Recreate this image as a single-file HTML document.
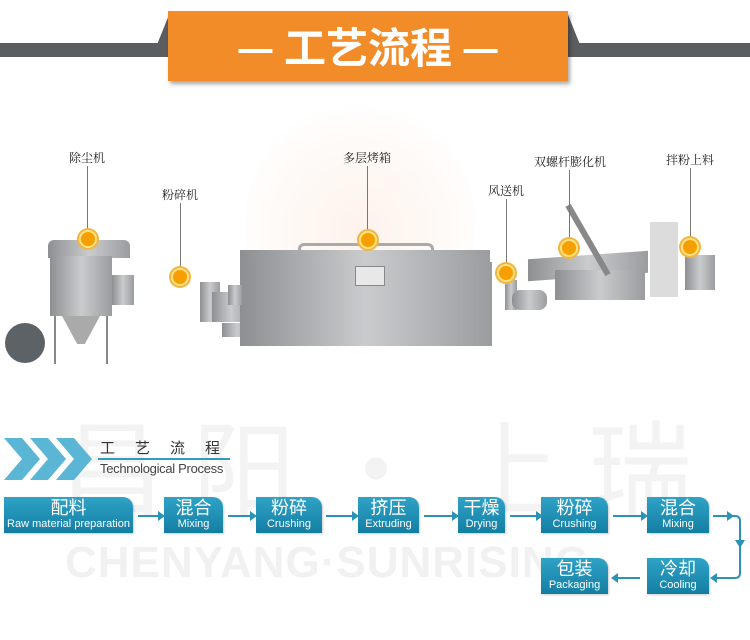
<!DOCTYPE html>
<html><head><meta charset="utf-8"><style>
body{margin:0;width:750px;height:640px;background:#fff;position:relative;overflow:hidden;font-family:"Liberation Sans","Noto Sans CJK SC",sans-serif}
.a{position:absolute}
.box{position:absolute;background:linear-gradient(180deg,#2fa3c6,#137ea3);color:#fff;text-align:center;border-top-right-radius:10px;box-shadow:1px 1px 2px rgba(0,0,0,.2)}
.box b{display:block;font-weight:normal;font-size:18px;line-height:20px;margin-top:1px}
.box i{display:block;font-style:normal;font-size:11px;line-height:13px}
.lbl{position:absolute;font-family:"Noto Serif CJK SC",serif;font-size:12px;color:#222;white-space:nowrap;transform:translateX(-50%)}
.ln{position:absolute;width:1px;background:#777}
.dot{position:absolute;width:14px;height:14px;border-radius:50%;background:#f5a000;border:2px solid #ffe080;box-shadow:0 0 0 2px #f1b640;transform:translate(-50%,-50%)}
.m{position:absolute;background:linear-gradient(90deg,#8d8f92,#c9cbcd,#9a9c9f)}
</style></head><body>
<div class="a" style="left:0;top:43px;width:750px;height:14px;background:#5b5e61"></div>
<div class="a" style="left:152px;top:14px;width:433px;height:43px;background:#5b5e61;clip-path:polygon(4% 0,96% 0,100% 100%,0 100%)"></div>
<div class="a" style="left:168px;top:11px;width:400px;height:70px;background:#f28c28;box-shadow:2px 3px 4px rgba(0,0,0,.35);color:#fff;text-align:center;font-size:42px;line-height:70px;font-weight:bold;font-family:'Noto Sans CJK SC',sans-serif">— 工艺流程 —</div>
<div class="a" style="left:245px;top:90px;width:230px;height:280px;border-radius:50%;background:radial-gradient(circle,rgba(250,220,200,.35),rgba(255,235,225,.15) 60%,transparent 70%)"></div>
<!-- machines -->
<div class="m" style="left:48px;top:240px;width:82px;height:18px;border-radius:6px 6px 0 0"></div>
<div class="m" style="left:50px;top:256px;width:62px;height:60px"></div>
<div class="a" style="left:62px;top:316px;width:38px;height:28px;background:#aaa;clip-path:polygon(0 0,100% 0,60% 100%,40% 100%)"></div>
<div class="a" style="left:54px;top:316px;width:2px;height:48px;background:#888"></div>
<div class="a" style="left:106px;top:316px;width:2px;height:48px;background:#888"></div>
<div class="m" style="left:112px;top:275px;width:22px;height:30px"></div>
<div class="a" style="left:5px;top:323px;width:40px;height:40px;border-radius:50%;background:#5c6266"></div>
<div class="m" style="left:200px;top:282px;width:20px;height:40px"></div>
<div class="m" style="left:212px;top:292px;width:38px;height:30px"></div>
<div class="m" style="left:222px;top:323px;width:30px;height:14px"></div>
<div class="a" style="left:298px;top:243px;width:130px;height:14px;border:3px solid #aaa;border-bottom:none;border-radius:6px 6px 0 0"></div>
<div class="m" style="left:240px;top:250px;width:250px;height:14px"></div>
<div class="m" style="left:240px;top:262px;width:252px;height:84px"></div>
<div class="a" style="left:355px;top:266px;width:28px;height:18px;background:#e8e8e8;border:1px solid #888"></div>
<div class="m" style="left:228px;top:285px;width:14px;height:20px"></div>
<div class="m" style="left:505px;top:280px;width:12px;height:30px"></div>
<div class="m" style="left:512px;top:290px;width:35px;height:20px;border-radius:8px"></div>
<div class="m" style="left:528px;top:255px;width:120px;height:22px;transform:skewY(-4deg)"></div>
<div class="m" style="left:555px;top:270px;width:90px;height:30px"></div>
<div class="m" style="left:650px;top:222px;width:28px;height:75px;background:#dcdcdc"></div>
<div class="m" style="left:685px;top:255px;width:30px;height:35px"></div>
<div class="a" style="left:585px;top:200px;width:6px;height:80px;background:#888;transform:rotate(-30deg)"></div>
<!-- labels -->
<div class="lbl" style="left:87px;top:149px">除尘机</div><div class="ln" style="left:87px;top:166px;height:72px"></div><div class="dot" style="left:88px;top:239px"></div>
<div class="lbl" style="left:180px;top:186px">粉碎机</div><div class="ln" style="left:180px;top:203px;height:73px"></div><div class="dot" style="left:180px;top:277px"></div>
<div class="lbl" style="left:367px;top:149px">多层烤箱</div><div class="ln" style="left:367px;top:166px;height:74px"></div><div class="dot" style="left:368px;top:240px"></div>
<div class="lbl" style="left:506px;top:182px">风送机</div><div class="ln" style="left:506px;top:199px;height:73px"></div><div class="dot" style="left:506px;top:273px"></div>
<div class="lbl" style="left:570px;top:153px">双螺杆膨化机</div><div class="ln" style="left:569px;top:170px;height:77px"></div><div class="dot" style="left:569px;top:248px"></div>
<div class="lbl" style="left:690px;top:151px">拌粉上料</div><div class="ln" style="left:690px;top:168px;height:78px"></div><div class="dot" style="left:690px;top:247px"></div>
<!-- watermark -->
<div class="a" style="left:60px;top:408px;font-size:104px;color:#f3f3f3;letter-spacing:28px;line-height:110px;font-family:'Noto Sans CJK SC',sans-serif">昌阳·上瑞</div>
<div class="a" style="left:65px;top:538px;font-size:44px;color:#f1f1f1;font-weight:bold;line-height:50px;letter-spacing:1px">CHENYANG·SUNRISING</div>
<!-- title -->
<svg class="a" style="left:0;top:438px" width="100" height="42"><g fill="#5bb5d4"><polygon points="4,0 22,0 40,21 22,42 4,42 22,21"/><polygon points="30,0 48,0 66,21 48,42 30,42 48,21"/><polygon points="56,0 74,0 92,21 74,42 56,42 74,21"/></g></svg>
<div class="a" style="left:100px;top:437px;font-size:15px;color:#333;letter-spacing:20px;font-family:'Noto Sans CJK SC',sans-serif">工艺流程</div>
<div class="a" style="left:98px;top:458px;width:132px;height:2px;background:#2f9cc0"></div>
<div class="a" style="left:100px;top:461px;font-size:13px;color:#444;letter-spacing:-0.3px">Technological Process</div>
<!-- boxes -->
<div class="box" style="left:4px;top:497px;width:129px;height:36px"><b>配料</b><i>Raw material preparation</i></div>
<div class="box" style="left:164px;top:497px;width:59px;height:36px"><b>混合</b><i>Mixing</i></div>
<div class="box" style="left:256px;top:497px;width:66px;height:36px"><b>粉碎</b><i>Crushing</i></div>
<div class="box" style="left:358px;top:497px;width:61px;height:36px"><b>挤压</b><i>Extruding</i></div>
<div class="box" style="left:458px;top:497px;width:47px;height:36px"><b>干燥</b><i>Drying</i></div>
<div class="box" style="left:541px;top:497px;width:67px;height:36px"><b>粉碎</b><i>Crushing</i></div>
<div class="box" style="left:647px;top:497px;width:62px;height:36px"><b>混合</b><i>Mixing</i></div>
<div class="box" style="left:541px;top:558px;width:67px;height:36px"><b>包装</b><i>Packaging</i></div>
<div class="box" style="left:647px;top:558px;width:62px;height:36px"><b>冷却</b><i>Cooling</i></div>
<svg class="a" style="left:0;top:0" width="750" height="640"><g stroke="#2b92b8" stroke-width="2" fill="none">
<path d="M138 516h20M228 516h22M326 516h26M424 516h28M510 516h26M613 516h28"/>
<path d="M713 516h22q5 0 5 5v52q0 5-5 5h-18"/>
<path d="M640 578h-22"/></g>
<g fill="#2b92b8"><polygon points="158,511 165,516 158,521"/><polygon points="250,511 257,516 250,521"/><polygon points="352,511 359,516 352,521"/><polygon points="452,511 459,516 452,521"/><polygon points="536,511 543,516 536,521"/><polygon points="641,511 648,516 641,521"/>
<polygon points="727,511 734,516 727,521"/><polygon points="735,540 740,548 745,540"/><polygon points="717,573 710,578 717,583"/><polygon points="618,573 611,578 618,583"/></g></svg>
</body></html>
